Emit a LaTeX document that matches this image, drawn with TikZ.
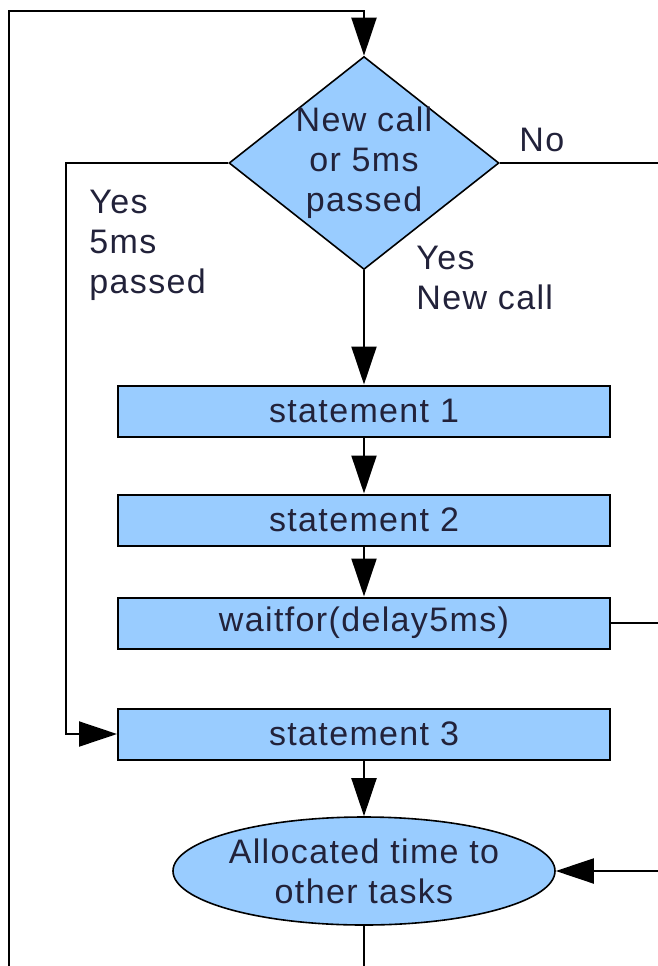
\documentclass[tikz,border=0pt]{standalone}
\usepackage{fontspec}
\setmainfont[LetterSpace=4]{Liberation Sans}
\usetikzlibrary{arrows.meta,shapes.geometric}
\definecolor{boxblue}{HTML}{99CCFF}
\definecolor{inkdark}{HTML}{22223A}

\begin{document}
\begin{tikzpicture}[x=0.5pt,y=-0.5pt,
  every node/.style={font=\fontsize{17}{20}\selectfont, text=inkdark},
  flow/.style={draw=black, line width=1pt},
  arr/.style={flow, -{Triangle[length=19pt,width=12.5pt]}},
  stmt/.style={draw=black, line width=1pt, fill=boxblue,
    minimum width=246pt, minimum height=25.5pt, inner sep=0pt},
  decision/.style={diamond, draw=black, line width=0.8pt, fill=boxblue,
    minimum width=135pt, minimum height=106.5pt, inner sep=0pt},
  terminal/.style={ellipse, draw=black, line width=0.8pt, fill=boxblue,
    minimum width=191pt, minimum height=54pt, inner sep=0pt},
  lbl/.style={align=left, anchor=west, inner sep=0pt}
]
\useasboundingbox (0,0) rectangle (658,966);

% shapes
\node[decision] (dec) at (364,163) {};
\node[align=center, inner sep=0pt] (dectext) at (364,163) {New call\\or 5ms\\passed};

\node[stmt] (s1) at (364,411) {statement 1};
\node[stmt] (s2) at (364,520) {statement 2};
\node[stmt] (wt) at (364,623) {waitfor(delay5ms)};
\node[stmt] (s3) at (364,734) {statement 3};

\node[terminal] (alloc) at (364,871) {};
\node[align=center, inner sep=0pt] (alloctext) at (364,871) {Allocated time to\\other tasks};

% loose ends of the connectors
\coordinate (loopleft) at (9,966);
\coordinate (looptop) at (364,11);
\coordinate (loopbottom) at (364,966);
\coordinate (noend) at (658,163);
\coordinate (yesleft) at (66,163);
\coordinate (wtend) at (658,623);
\coordinate (allocin) at (658,871);

% connectors
\draw[arr] (loopleft) |- (looptop) -- (dec.north);
\draw[flow] (dec.east) -- (noend);
\draw[arr] (dec.west) -- (yesleft) |- (s3.west);
\draw[arr] (dec.south) -- (s1.north);
\draw[arr] (s1.south) -- (s2.north);
\draw[arr] (s2.south) -- (wt.north);
\draw[flow] (wt.east) -- (wtend);
\draw[arr] (s3.south) -- (alloc.north);
\draw[arr] (allocin) -- (alloc.east);
\draw[flow] (alloc.south) -- (loopbottom);

% branch labels
\node[lbl] (nolbl) at (519,140) {No};
\node[lbl] (yes5) at (89,245) {Yes\\5ms\\passed};
\node[lbl] (yesnew) at (416,278) {Yes\\New call};
\end{tikzpicture}
\end{document}
